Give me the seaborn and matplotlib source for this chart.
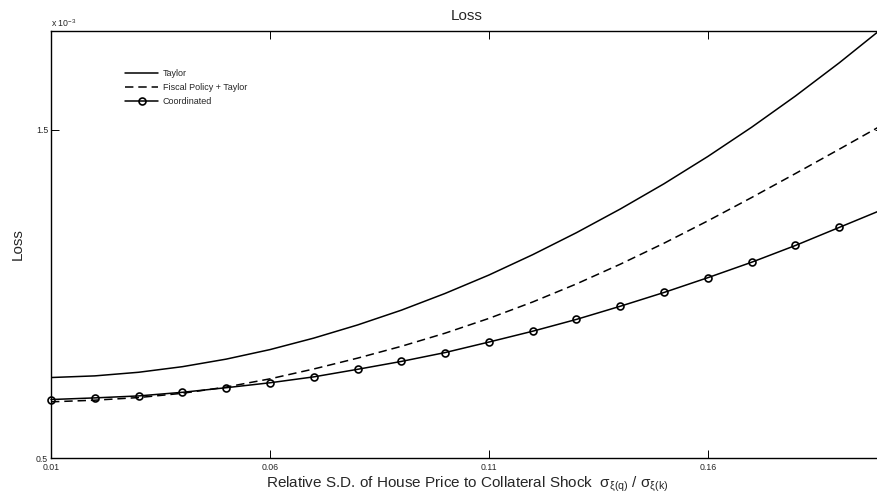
import matplotlib
matplotlib.use("Agg")
import matplotlib.pyplot as plt
import pandas as pd
import seaborn as sns

# relative s.d. of house price shock to collateral shock
ratio = [0.01, 0.02, 0.03, 0.04, 0.05, 0.06, 0.07, 0.08, 0.09, 0.10,
         0.11, 0.12, 0.13, 0.14, 0.15, 0.16, 0.17, 0.18, 0.19, 0.20]

# loss, in units of 1e-3
loss_taylor = [0.745, 0.750, 0.761, 0.778, 0.801, 0.830, 0.865, 0.905, 0.950, 1.001,
               1.057, 1.119, 1.186, 1.258, 1.335, 1.418, 1.507, 1.602, 1.703, 1.810]
loss_fiscal = [0.671, 0.676, 0.684, 0.697, 0.716, 0.741, 0.771, 0.804, 0.840, 0.880,
               0.925, 0.975, 1.030, 1.090, 1.154, 1.222, 1.293, 1.366, 1.440, 1.515]
loss_coord = [0.678, 0.683, 0.689, 0.700, 0.714, 0.729, 0.747, 0.770, 0.794, 0.821,
              0.853, 0.886, 0.922, 0.962, 1.004, 1.049, 1.096, 1.147, 1.202, 1.257]

x_ticks = [0.01, 0.06, 0.11, 0.16]
y_ticks = [0.5, 1.5]

sns.set_style("ticks")
plt.rcParams["font.family"] = ["Liberation Sans", "DejaVu Sans"]
plt.rcParams["mathtext.fontset"] = "custom"
plt.rcParams["mathtext.rm"] = "Liberation Sans"
plt.rcParams["mathtext.it"] = "Liberation Sans"
plt.rcParams["mathtext.bf"] = "Liberation Sans:bold"

W, H = 877, 503
fig = plt.figure(figsize=(W / 100, H / 100), dpi=100)
# axes run a little past the right edge of the picture (x = 0.20 is cut off)
ax = fig.add_axes([51 / W, (H - 458) / H, 832 / W, 427 / H])

df = pd.DataFrame({"ratio": ratio, "taylor": loss_taylor,
                   "fiscal": loss_fiscal, "coord": loss_coord})

sns.lineplot(data=df, x="ratio", y="taylor", ax=ax, color="black",
             linewidth=1.1, label="Taylor")
sns.lineplot(data=df, x="ratio", y="fiscal", ax=ax, color="black",
             linewidth=1.1, linestyle=(0, (5.5, 3.2)), label="Fiscal Policy + Taylor")
sns.lineplot(data=df, x="ratio", y="coord", ax=ax, color="black",
             linewidth=1.1, marker="o", markersize=5, markerfacecolor="none",
             markeredgecolor="black", markeredgewidth=1.2, clip_on=False,
             label="Coordinated")

ax.set_xlim(0.01, 0.20)
ax.set_ylim(0.5, 1.8)
ax.set_xticks(x_ticks)
ax.set_xticklabels([f"{t:.2f}" for t in x_ticks])
ax.set_yticks(y_ticks)
ax.set_yticklabels([f"{t:.1f}" for t in y_ticks])
ax.tick_params(axis="both", direction="in", top=True, right=True,
               length=6, width=0.7, labelsize=6.3, color="black")
ax.tick_params(axis="x", pad=3.5)
ax.tick_params(axis="y", pad=2)
for sp in ax.spines.values():
    sp.set_linewidth(1.0)
    sp.set_color("black")

ax.set_title("Loss", fontsize=11, pad=8)
ax.set_ylabel("Loss", fontsize=11, labelpad=8)
ax.set_xlabel(r"Relative S.D. of House Price to Collateral Shock  $\sigma_{\xi(q)}$ / $\sigma_{\xi(k)}$",
              fontsize=11, labelpad=2)

fig.text(51 / W, 1 - 23 / H, r"x 10$^{-3}$", fontsize=6.3, ha="left", va="center")

ax.legend(loc="upper left", bbox_to_anchor=(0.089, 0.911), frameon=False,
          fontsize=6.5, handlelength=3.7, handletextpad=0.45,
          labelspacing=0.58, borderpad=0, borderaxespad=0)

fig.savefig("out.png", dpi=100, facecolor="white")
